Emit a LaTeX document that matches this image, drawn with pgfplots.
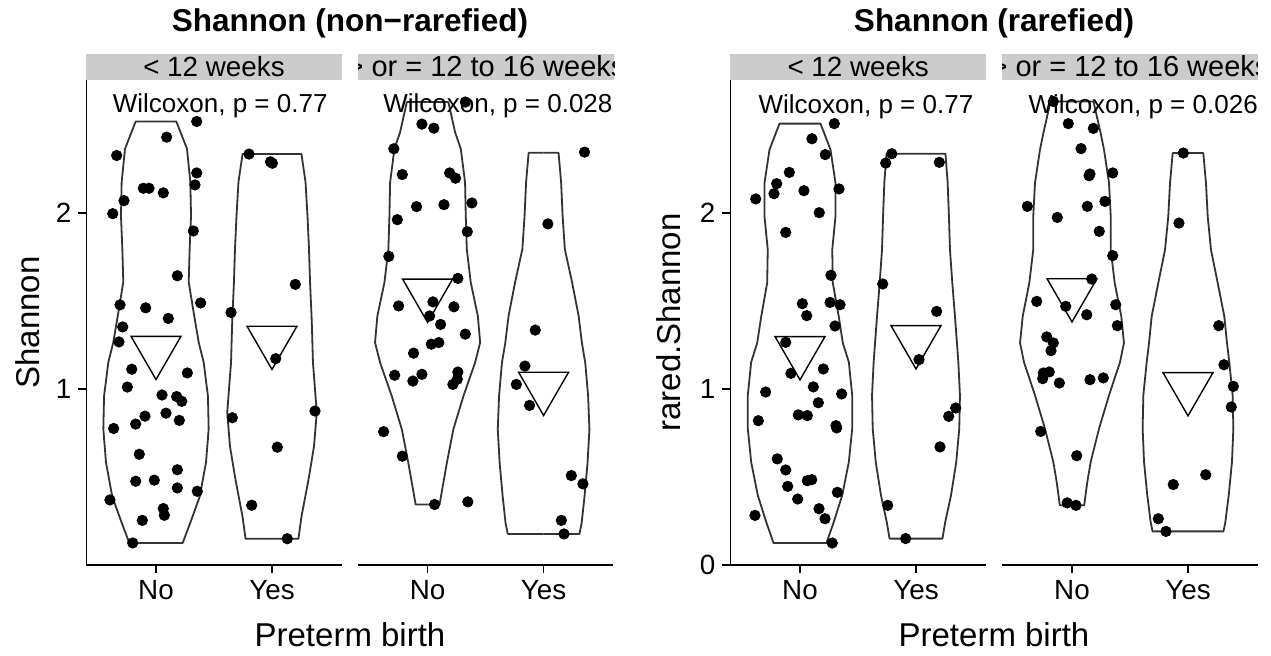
\documentclass[border=0pt]{standalone}
\usepackage{pgfplots}
\pgfplotsset{compat=1.18}
\usepackage{pgfplotstable}
\usepackage{fontspec}
\setmainfont{Liberation Sans}

% violin outlines: y, half-width
\pgfplotstableread{
y w
0.129 0
0.129 0.230
0.244 0.296
0.392 0.377
0.585 0.431
0.773 0.454
0.960 0.448
1.153 0.411
1.267 0.368
1.415 0.330
1.608 0.282
1.795 0.290
1.983 0.302
2.176 0.296
2.364 0.267
2.519 0.175
2.519 0
}\vAno
\pgfplotstableread{
y w
0.153 0
0.153 0.228
0.278 0.254
0.489 0.315
0.676 0.362
0.869 0.386
1.153 0.353
1.341 0.345
1.415 0.341
1.608 0.328
1.795 0.319
1.983 0.306
2.176 0.289
2.334 0.254
2.334 0
}\vAyes
\pgfplotstableread{
y w
0.347 0
0.347 0.103
0.470 0.136
0.583 0.166
0.773 0.222
0.962 0.309
1.151 0.409
1.265 0.453
1.416 0.433
1.606 0.372
1.795 0.338
1.984 0.329
2.174 0.323
2.364 0.286
2.458 0.237
2.629 0.179
2.629 0
}\vBno
\pgfplotstableread{
y w
0.180 0
0.180 0.309
0.242 0.328
0.394 0.353
0.583 0.379
0.773 0.395
0.962 0.384
1.151 0.359
1.265 0.330
1.416 0.302
1.606 0.246
1.795 0.183
1.984 0.164
2.174 0.151
2.341 0.129
2.341 0
}\vByes
\pgfplotstableread{
y w
0.123 0
0.123 0.228
0.242 0.291
0.394 0.364
0.583 0.421
0.773 0.450
0.962 0.450
1.151 0.421
1.260 0.369
1.411 0.334
1.601 0.283
1.790 0.278
1.979 0.306
2.169 0.306
2.358 0.263
2.506 0.177
2.506 0
}\vCno
\pgfplotstableread{
y w
0.148 0
0.148 0.228
0.242 0.252
0.394 0.302
0.583 0.347
0.773 0.373
0.962 0.379
1.151 0.365
1.260 0.353
1.411 0.336
1.601 0.313
1.790 0.293
1.979 0.284
2.169 0.273
2.335 0.254
2.335 0
}\vCyes
\pgfplotstableread{
y w
0.337 0
0.337 0.105
0.470 0.132
0.583 0.161
0.773 0.233
0.962 0.319
1.151 0.414
1.260 0.448
1.411 0.425
1.601 0.368
1.790 0.334
1.979 0.334
2.169 0.319
2.358 0.276
2.452 0.247
2.632 0.185
2.632 0
}\vDno
\pgfplotstableread{
y w
0.189 0
0.189 0.306
0.242 0.322
0.394 0.351
0.583 0.379
0.773 0.391
0.962 0.385
1.151 0.356
1.260 0.336
1.411 0.313
1.601 0.256
1.790 0.198
1.979 0.170
2.169 0.155
2.339 0.132
2.339 0
}\vDyes

\pgfplotsset{
  panel/.style={scale only axis, width=127.6pt, height=242.5pt, anchor=south west,
    xmin=0.4, xmax=2.6, clip=false,
    axis x line*=bottom, xtick={1,2}, xticklabels={No,Yes},
    tick align=outside, major tick length=4pt,
    tick style={black, line width=0.9pt},
    axis line style={black, line width=0.9pt},
    ticklabel style={font=\fontsize{13.9}{16}\selectfont},
    /pgf/number format/assume math mode=true},
  withy/.style={axis y line*=left, ytick={#1}},
  noy/.style={axis y line=none, ytick=\empty},
  vio/.style={draw=black!80, line width=0.9pt, line join=round, no markers},
  pts/.style={only marks, mark=*, mark size=2.6pt, black},
  mn/.style={only marks, mark=triangle, mark size=14.4pt,
    mark options={rotate=180, draw=black, line width=0.7pt, fill=none}},
}

\begin{document}
\begin{tikzpicture}
\useasboundingbox (0,0) rectangle (635.5pt,327.5pt);

% strips
\fill[black!20] (43.2pt,287.5pt) rectangle (170.8pt,300.5pt);
\fill[black!20] (179pt,287.5pt) rectangle (307pt,300.5pt);
\fill[black!20] (365.2pt,287.5pt) rectangle (493pt,300.5pt);
\fill[black!20] (501.2pt,287.5pt) rectangle (628.8pt,300.5pt);
\begin{scope}
\clip (43.2pt,287.5pt) rectangle (170.8pt,300.5pt);
\node[anchor=base, inner sep=0, font=\fontsize{13.9}{16}\selectfont] at (107pt,289.3pt) {< 12 weeks};
\end{scope}
\begin{scope}
\clip (179pt,287.5pt) rectangle (307pt,300.5pt);
\node[anchor=base, inner sep=0, font=\fontsize{14.5}{16}\selectfont] at (243pt,289.3pt) {> or = 12 to 16 weeks};
\end{scope}
\begin{scope}
\clip (365.2pt,287.5pt) rectangle (493pt,300.5pt);
\node[anchor=base, inner sep=0, font=\fontsize{13.9}{16}\selectfont] at (429.1pt,289.3pt) {< 12 weeks};
\end{scope}
\begin{scope}
\clip (501.2pt,287.5pt) rectangle (628.8pt,300.5pt);
\node[anchor=base, inner sep=0, font=\fontsize{14.5}{16}\selectfont] at (565pt,289.3pt) {> or = 12 to 16 weeks};
\end{scope}

% titles and labels
\node[anchor=base, inner sep=0, font=\bfseries\fontsize{15.75}{18}\selectfont] at (175pt,311.6pt) {Shannon (non−rarefied)};
\node[anchor=base, inner sep=0, font=\bfseries\fontsize{15.75}{18}\selectfont] at (497pt,311.6pt) {Shannon (rarefied)};
\node[anchor=base, inner sep=0, font=\fontsize{16.5}{18}\selectfont] at (175pt,4.15pt) {Preterm birth};
\node[anchor=base, inner sep=0, font=\fontsize{16.5}{18}\selectfont] at (497pt,4.15pt) {Preterm birth};
\node[rotate=90, inner sep=0, font=\fontsize{16.5}{18}\selectfont] at (14pt,166.25pt) {Shannon};
\node[rotate=90, inner sep=0, font=\fontsize{16.5}{18}\selectfont] at (334.5pt,166.25pt) {rared.Shannon};

% ---------- Panel 1 ----------
\begin{axis}[panel, withy={1,2}, at={(43.2pt,45pt)}, ymin=0.004, ymax=2.754]
\addplot[vio] table[x expr=1+\thisrow{w}, y=y] {\vAno};
\addplot[vio] table[x expr=1-\thisrow{w}, y=y] {\vAno};
\addplot[vio] table[x expr=2+\thisrow{w}, y=y] {\vAyes};
\addplot[vio] table[x expr=2-\thisrow{w}, y=y] {\vAyes};
\addplot[mn] coordinates {(1,1.219) (2,1.276)};
\addplot[pts] coordinates {
(1.351,2.519) (1.092,2.430) (0.661,2.326) (1.351,2.227) (1.336,2.159)
(0.891,2.140) (0.940,2.140) (1.063,2.114) (0.724,2.070) (0.627,1.996)
(1.322,1.898) (1.184,1.644) (0.690,1.479) (0.911,1.462) (1.385,1.490)
(1.106,1.402) (0.713,1.354) (0.681,1.269) (0.791,1.114) (1.270,1.093)
(0.753,1.013) (1.052,0.968) (1.178,0.959) (1.222,0.932) (0.905,0.848)
(1.086,0.865) (0.825,0.803) (1.201,0.824) (0.635,0.778) (0.856,0.632)
(1.184,0.544) (0.825,0.479) (0.985,0.485) (1.184,0.441) (1.356,0.422)
(0.603,0.373) (1.063,0.324) (1.072,0.286) (0.882,0.257) (0.799,0.129)};
\addplot[pts] coordinates {
(1.802,2.334) (2.003,2.282) (1.987,2.290) (2.201,1.595) (1.647,1.436)
(2.032,1.174) (1.658,0.839) (2.371,0.877) (2.046,0.672) (1.825,0.343)
(2.132,0.153)};
\node[anchor=base west, inner sep=0, font=\fontsize{13}{15}\selectfont] at (axis cs:0.625,2.572) {Wilcoxon, p = 0.77};
\end{axis}

% ---------- Panel 2 ----------
\begin{axis}[panel, noy, at={(179pt,45pt)}, ymin=0.004, ymax=2.754]
\addplot[vio] table[x expr=1+\thisrow{w}, y=y] {\vBno};
\addplot[vio] table[x expr=1-\thisrow{w}, y=y] {\vBno};
\addplot[vio] table[x expr=2+\thisrow{w}, y=y] {\vByes};
\addplot[vio] table[x expr=2-\thisrow{w}, y=y] {\vByes};
\addplot[mn] coordinates {(1,1.543) (2,1.015)};
\addplot[pts] coordinates {
(1.325,2.629) (0.951,2.504) (1.054,2.481) (0.709,2.364) (0.782,2.218)
(1.190,2.227) (1.241,2.197) (0.905,2.036) (1.141,2.047) (1.382,2.057)
(0.739,1.962) (1.342,1.894) (0.666,1.754) (1.261,1.629) (0.750,1.473)
(1.046,1.496) (1.227,1.468) (1.017,1.416) (1.112,1.368) (1.325,1.313)
(1.032,1.256) (1.097,1.265) (0.879,1.205) (0.716,1.080) (0.951,1.085)
(0.873,1.047) (1.261,1.098) (1.256,1.057) (1.218,1.028) (0.621,0.760)
(0.782,0.621) (1.060,0.347) (1.347,0.362)};
\addplot[pts] coordinates {
(2.353,2.345) (2.037,1.938) (1.928,1.336) (1.839,1.132) (1.765,1.028)
(1.879,0.909) (2.239,0.511) (2.339,0.464) (2.153,0.257) (2.176,0.180)};
\node[anchor=base west, inner sep=0, font=\fontsize{13}{15}\selectfont] at (axis cs:0.615,2.572) {Wilcoxon, p = 0.028};
\end{axis}

% ---------- Panel 3 ----------
\begin{axis}[panel, withy={0,1,2}, at={(365.2pt,45pt)}, ymin=-0.002, ymax=2.754]
\addplot[vio] table[x expr=1+\thisrow{w}, y=y] {\vCno};
\addplot[vio] table[x expr=1-\thisrow{w}, y=y] {\vCno};
\addplot[vio] table[x expr=2+\thisrow{w}, y=y] {\vCyes};
\addplot[vio] table[x expr=2-\thisrow{w}, y=y] {\vCyes};
\addplot[mn] coordinates {(1,1.214) (2,1.276)};
\addplot[pts] coordinates {
(1.296,2.506) (1.103,2.420) (1.218,2.330) (0.908,2.229) (0.799,2.165)
(0.776,2.108) (1.034,2.125) (1.336,2.135) (0.618,2.078) (1.166,2.000)
(0.877,1.888) (1.267,1.644) (1.020,1.483) (1.259,1.490) (1.345,1.477)
(1.058,1.415) (1.302,1.356) (0.877,1.263) (0.922,1.087) (1.201,1.112)
(1.115,1.010) (0.704,0.981) (1.359,0.970) (1.158,0.920) (0.985,0.851)
(1.063,0.847) (0.641,0.818) (1.310,0.790) (1.316,0.777) (0.804,0.601)
(0.877,0.538) (0.894,0.445) (1.063,0.477) (1.101,0.483) (0.980,0.373)
(1.322,0.411) (1.164,0.318) (1.216,0.261) (0.612,0.280) (1.278,0.123)};
\addplot[pts] coordinates {
(1.791,2.335) (1.739,2.282) (2.201,2.286) (1.713,1.595) (2.178,1.439)
(2.026,1.165) (2.342,0.890) (2.282,0.843) (2.207,0.669) (1.756,0.337)
(1.911,0.148)};
\node[anchor=base west, inner sep=0, font=\fontsize{13}{15}\selectfont] at (axis cs:0.64,2.566) {Wilcoxon, p = 0.77};
\end{axis}

% ---------- Panel 4 ----------
\begin{axis}[panel, noy, at={(501.2pt,45pt)}, ymin=-0.002, ymax=2.754]
\addplot[vio] table[x expr=1+\thisrow{w}, y=y] {\vDno};
\addplot[vio] table[x expr=1-\thisrow{w}, y=y] {\vDno};
\addplot[vio] table[x expr=2+\thisrow{w}, y=y] {\vDyes};
\addplot[vio] table[x expr=2-\thisrow{w}, y=y] {\vDyes};
\addplot[mn] coordinates {(1,1.543) (2,1.009)};
\addplot[pts] coordinates {
(0.839,2.632) (0.968,2.506) (1.184,2.479) (1.078,2.364) (1.147,2.210)
(1.155,2.220) (1.351,2.226) (0.615,2.036) (0.873,1.973) (1.132,2.036)
(1.284,2.064) (1.235,1.894) (1.351,1.756) (1.170,1.623) (0.696,1.496)
(0.946,1.468) (1.127,1.420) (1.377,1.477) (1.391,1.358) (0.782,1.294)
(0.839,1.260) (0.819,1.216) (0.753,1.089) (0.804,1.095) (0.747,1.057)
(0.891,1.032) (1.155,1.051) (1.270,1.061) (0.730,0.757) (1.041,0.619)
(0.959,0.351) (1.034,0.337)};
\addplot[pts] coordinates {
(1.960,2.339) (1.922,1.941) (2.265,1.358) (2.310,1.136) (2.391,1.013)
(2.373,0.896) (2.153,0.511) (1.873,0.455) (1.744,0.261) (1.810,0.189)};
\node[anchor=base west, inner sep=0, font=\fontsize{13}{15}\selectfont] at (axis cs:0.623,2.566) {Wilcoxon, p = 0.026};
\end{axis}
\end{tikzpicture}
\end{document}
